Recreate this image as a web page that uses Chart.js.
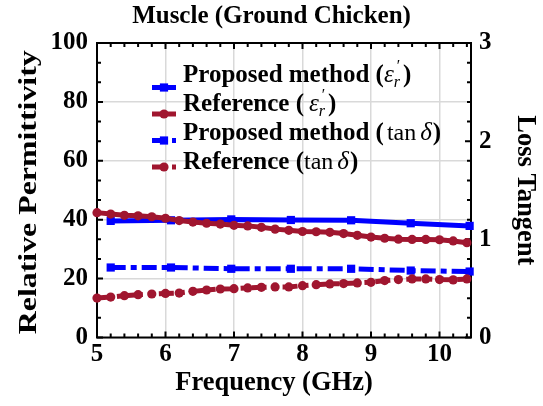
<!DOCTYPE html>
<html>
<head>
<meta charset="utf-8">
<script src="https://cdn.jsdelivr.net/npm/chart.js@4.4.0/dist/chart.umd.min.js"></script>
<style>
  html, body { margin: 0; padding: 0; background: #fff; }
</style>
</head>
<body>
<canvas id="myChart" width="543" height="406"></canvas>
<script>
// Proposed method: sparse sweep
const freqProposed = [5.2, 6.08, 6.96, 7.83, 8.71, 9.58, 10.44];
const epsProposed = [39.6, 39.8, 40.1, 39.9, 39.8, 38.8, 37.9];
const tanProposed = [0.713, 0.713, 0.70, 0.70, 0.70, 0.682, 0.672];

// Reference measurement: 0.2 GHz steps
const freqReference = [5.0, 5.2, 5.4, 5.6, 5.8, 6.0, 6.2, 6.4, 6.6, 6.8, 7.0, 7.2, 7.4, 7.6,
  7.8, 8.0, 8.2, 8.4, 8.6, 8.8, 9.0, 9.2, 9.4, 9.6, 9.8, 10.0, 10.2, 10.4];
const epsReference = [42.4, 41.9, 41.5, 41.3, 41.0, 40.5, 39.7, 39.2, 38.8, 38.5, 38.1, 37.9, 37.4, 36.8,
  36.4, 36.0, 35.9, 35.7, 35.3, 34.7, 34.1, 33.7, 33.4, 33.3, 33.3, 33.2, 32.8, 32.2];
const tanReference = [0.402, 0.412, 0.426, 0.436, 0.443, 0.449, 0.453, 0.470, 0.484, 0.494, 0.497, 0.505, 0.511, 0.515,
  0.515, 0.528, 0.538, 0.546, 0.549, 0.556, 0.562, 0.580, 0.590, 0.597, 0.597, 0.590, 0.587, 0.597];

const freqTicks = [5, 6, 7, 8, 9, 10];
const epsTicks = [0, 20, 40, 60, 80, 100];
const tanTicks = [0, 1, 2, 3];

const SERIF = "'Liberation Serif', 'Times New Roman', serif";
const BLUE = "#0000ff";
const RED = "#a0162f";
const DASH_DOT = [15, 5, 6, 5];
const Y_TITLE = "Relative Permittivity";
const X_TITLE = "Frequency (GHz)";

function points(xs, ys) {
  return xs.map((x, i) => ({ x: x, y: ys[i] }));
}

function fixedTicks(values) {
  return (scale) => {
    scale.ticks = values.map((v) => ({ value: v }));
  };
}

// frame around the plot with inward ticks on all four sides
const frameTicks = {
  id: "frameTicks",
  beforeDatasetsDraw(chart) {
    const { ctx, chartArea: a, scales } = chart;
    ctx.save();
    ctx.strokeStyle = "#000";
    ctx.lineWidth = 2;
    ctx.strokeRect(a.left, a.top, a.right - a.left, a.bottom - a.top);
    ctx.beginPath();
    for (let k = 0; scales.x.min + k * 0.2 <= scales.x.max + 1e-9; k++) {
      const px = scales.x.getPixelForValue(scales.x.min + k * 0.2);
      const len = k % 5 === 0 ? 6 : 4;
      ctx.moveTo(px, a.bottom);
      ctx.lineTo(px, a.bottom - len);
      ctx.moveTo(px, a.top);
      ctx.lineTo(px, a.top + len);
    }
    for (let k = 0; k <= 15; k++) {
      const py = scales.y1.getPixelForValue(k * 0.2);
      ctx.moveTo(a.left, py);
      ctx.lineTo(a.left + (k % 3 === 0 ? 6 : 4), py);
      ctx.moveTo(a.right, py);
      ctx.lineTo(a.right - (k % 5 === 0 ? 6 : 4), py);
    }
    ctx.stroke();
    ctx.restore();
  },
};

// left (tall, narrow) and bottom axis titles
const axisTitles = {
  id: "axisTitles",
  afterDraw(chart) {
    const { ctx, chartArea: a } = chart;
    ctx.save();
    ctx.fillStyle = "#000";
    ctx.textAlign = "center";
    ctx.textBaseline = "middle";
    ctx.font = "bold 26.5px " + SERIF;
    ctx.fillText(X_TITLE, 274, 383);
    ctx.font = "bold 26px " + SERIF;
    const w = ctx.measureText(Y_TITLE).width;
    ctx.translate(29, (a.top + a.bottom) / 2 + 2);
    ctx.rotate(-Math.PI / 2);
    ctx.scale(284 / w, 1);
    ctx.fillText(Y_TITLE, 0, 0);
    ctx.restore();
  },
};

// legend with sub/superscripts, drawn inside the plot
const B = "bold 25px " + SERIF;
const R = "24px " + SERIF;
const I = "italic 25px " + SERIF;
const IS = "italic 16px " + SERIF;

const legendRows = [
  [{ text: "Proposed method (", font: B }, { text: "ε", font: I }, { sub: "r", sup: "′", font: IS }, { text: ")", font: B, gap: 1 }],
  [{ text: "Reference (", font: B }, { text: "ε", font: I, gap: 5 }, { sub: "r", sup: "′", font: IS }, { text: ")", font: B, gap: 1 }],
  [{ text: "Proposed method (", font: B }, { text: "tan", font: R, gap: 3 }, { text: "δ", font: I, gap: 4 }, { text: ")", font: B, gap: 1 }],
  [{ text: "Reference (", font: B }, { text: "tan", font: R }, { text: "δ", font: I, gap: 4 }, { text: ")", font: B, gap: 1 }],
];

function drawParts(ctx, parts, x, y) {
  parts.forEach((p) => {
    ctx.font = p.font;
    x += p.gap || 0;
    if (p.sub) {
      ctx.fillText(p.sub, x, y + 5);
      ctx.fillText(p.sup, x + 2, y - 11);
      x += Math.max(ctx.measureText(p.sub).width, ctx.measureText(p.sup).width) + 2;
    } else {
      ctx.fillText(p.text, x, y);
      x += ctx.measureText(p.text).width;
    }
  });
}

const richLegend = {
  id: "richLegend",
  afterDatasetsDraw(chart) {
    const ctx = chart.ctx;
    const x0 = 152, x1 = 176, textX = 183;
    ctx.save();
    ctx.fillStyle = "#000";
    ctx.textBaseline = "alphabetic";
    legendRows.forEach((parts, i) => {
      const ds = chart.data.datasets[i];
      const base = 82 + i * 29;
      const ly = 87.5 + i * 26.5;
      ctx.save();
      ctx.strokeStyle = ds.borderColor;
      ctx.fillStyle = ds.borderColor;
      ctx.lineWidth = ds.borderWidth;
      ctx.setLineDash(ds.borderDash || []);
      ctx.beginPath();
      ctx.moveTo(x0, ly);
      ctx.lineTo(x1, ly);
      ctx.stroke();
      ctx.setLineDash([]);
      const cx = x0 + 12;
      if (ds.pointStyle === "rect") {
        const s = ds.pointRadius * Math.SQRT2;
        ctx.fillRect(cx - s / 2, ly - s / 2, s, s);
      } else {
        ctx.beginPath();
        ctx.arc(cx, ly, ds.pointRadius, 0, Math.PI * 2);
        ctx.fill();
      }
      ctx.restore();
      drawParts(ctx, parts, textX, base);
    });
    ctx.restore();
  },
};

const tickFont = { family: SERIF, size: 25, weight: "bold" };
const titleFont = { family: SERIF, size: 25, weight: "bold" };
const axisTitleFont = { family: SERIF, size: 26.5, weight: "bold" };

new Chart(document.getElementById("myChart"), {
  type: "line",
  data: {
    datasets: [
      {
        label: "Proposed method (εr′)",
        data: points(freqProposed, epsProposed),
        yAxisID: "y",
        borderColor: BLUE,
        backgroundColor: BLUE,
        borderWidth: 5,
        pointStyle: "rect",
        pointRadius: 5.8,
        pointBorderWidth: 0,
        order: 2,
      },
      {
        label: "Reference (εr′)",
        data: points(freqReference, epsReference),
        yAxisID: "y",
        borderColor: RED,
        backgroundColor: RED,
        borderWidth: 5,
        pointStyle: "circle",
        pointRadius: 4.6,
        pointBorderWidth: 0,
        order: 1,
      },
      {
        label: "Proposed method (tan δ)",
        data: points(freqProposed, tanProposed),
        yAxisID: "y1",
        borderColor: BLUE,
        backgroundColor: BLUE,
        borderWidth: 5,
        borderDash: DASH_DOT,
        pointStyle: "rect",
        pointRadius: 5.8,
        pointBorderWidth: 0,
        order: 2,
      },
      {
        label: "Reference (tan δ)",
        data: points(freqReference, tanReference),
        yAxisID: "y1",
        borderColor: RED,
        backgroundColor: RED,
        borderWidth: 5,
        borderDash: DASH_DOT,
        pointStyle: "circle",
        pointRadius: 4.6,
        pointBorderWidth: 0,
        order: 1,
      },
    ],
  },
  options: {
    responsive: false,
    animation: false,
    devicePixelRatio: 1,
    clip: false,
    elements: { line: { tension: 0 } },
    layout: { padding: 0 },
    plugins: {
      legend: { display: false },
      tooltip: { enabled: false },
      title: {
        display: true,
        text: "Muscle (Ground Chicken)",
        color: "#000",
        font: titleFont,
        padding: { top: 2, bottom: 11 },
      },
    },
    scales: {
      x: {
        type: "linear",
        min: 5,
        max: 10.46,
        afterBuildTicks: fixedTicks(freqTicks),
        afterFit: (s) => { s.height = 68.5; },
        grid: { color: "#d9d9d9", lineWidth: 1.5, drawTicks: false },
        border: { display: false },
        ticks: { color: "#000", font: tickFont, padding: 2 },
        title: { display: false },
      },
      y: {
        position: "left",
        min: 0,
        max: 100,
        afterBuildTicks: fixedTicks(epsTicks),
        afterFit: (s) => { s.width = 97; },
        grid: { color: "#d9d9d9", lineWidth: 1.5, drawTicks: false },
        border: { display: false },
        ticks: { color: "#000", font: tickFont, padding: 9 },
        title: { display: false },
      },
      y1: {
        position: "right",
        min: 0,
        max: 3,
        afterBuildTicks: fixedTicks(tanTicks),
        afterFit: (s) => { s.width = 72; },
        grid: { display: false, drawTicks: false },
        border: { display: false },
        ticks: { color: "#000", font: tickFont, padding: 8 },
        title: { display: true, text: "Loss Tangent", color: "#000", font: axisTitleFont, padding: { top: 2, bottom: 0 } },
      },
    },
  },
  plugins: [frameTicks, richLegend, axisTitles],
});
</script>
</body>
</html>
